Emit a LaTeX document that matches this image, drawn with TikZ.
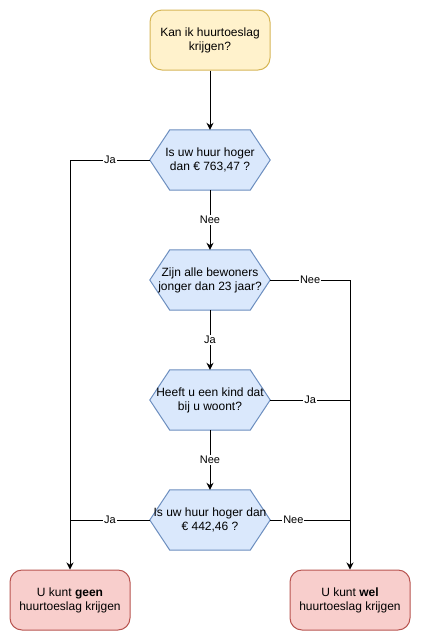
\documentclass[tikz,border=0pt]{standalone}
\usepackage{fontspec}
\setmainfont{Liberation Sans}
\usetikzlibrary{arrows.meta}
\usetikzlibrary{backgrounds}

\definecolor{startfill}{HTML}{FFF2CC}
\definecolor{startline}{HTML}{D6B656}
\definecolor{askfill}{HTML}{DAE8FC}
\definecolor{askline}{HTML}{6C8EBF}
\definecolor{endfill}{HTML}{F8CECC}
\definecolor{endline}{HTML}{B85450}

\begin{document}
\begin{tikzpicture}[
                x=1pt, y=-1pt,
                box/.style={rectangle, rounded corners=12pt, line width=1pt,
                    minimum width=120pt, minimum height=60pt, align=center,
                    inner sep=0pt, font=\fontsize{12}{14}\selectfont},
                startbox/.style={box, draw=startline, fill=startfill},
                endbox/.style={box, draw=endline, fill=endfill},
                ask/.style={rectangle, minimum width=120pt, minimum height=60pt,
                    align=center, inner sep=0pt, font=\fontsize{12}{14}\selectfont},
                hexa/.style={draw=askline, fill=askfill, line width=1pt},
                flow/.style={line width=1pt, -{Stealth[length=7pt, width=7pt]}},
                joinline/.style={line width=1pt},
                lbl/.style={fill=white, inner sep=1pt, font=\fontsize{11}{12}\selectfont}
            ]

            \useasboundingbox (0,0) rectangle (421,641);

            \node[startbox] (start) at (210,40) {Kan ik huurtoeslag\\krijgen?};
            \node[ask] (q1) at (210,160) {Is uw huur hoger\\dan € 763,47 ?};
            \node[ask] (q2) at (210,280) {Zijn alle bewoners\\jonger dan 23 jaar?};
            \node[ask] (q3) at (210,400) {Heeft u een kind dat\\bij u woont?};
            \node[ask] (q4) at (210,520) {Is uw huur hoger dan\\€ 442,46 ?};
            \node[endbox] (geen) at (70,600) {U kunt \textbf{geen}\\huurtoeslag krijgen};
            \node[endbox] (wel) at (350,600) {U kunt \textbf{wel}\\huurtoeslag krijgen};

            \begin{scope}[on background layer]
                \foreach \q in {q1, q2, q3, q4} {
                        \filldraw[hexa] (\q.west) -- ([xshift=20pt]\q.north west)
                        -- ([xshift=-20pt]\q.north east) -- (\q.east)
                        -- ([xshift=-20pt]\q.south east) -- ([xshift=20pt]\q.south west) -- cycle;
                    }
            \end{scope}

            \coordinate (J3) at (wel.north |- q3.east);
            \coordinate (J4r) at (wel.north |- q4.east);
            \coordinate (J4l) at (geen.north |- q4.west);

            \draw[flow] (start) -- (q1);
            \draw[flow] (q1) -- node[lbl] {Nee} (q2);
            \draw[flow] (q2) -- node[lbl] {Ja} (q3);
            \draw[flow] (q3) -- node[lbl] {Nee} (q4);

            \draw[flow] (q1.west) -| node[lbl, pos=0.25] {Ja} (geen.north);
            \draw[flow] (q2.east) -| node[lbl, pos=0.25] {Nee} (wel.north);
            \draw[joinline] (q3.east) -- node[lbl] {Ja} (J3);
            \draw[joinline] (q4.east) -- node[lbl, pos=0.29] {Nee} (J4r);
            \draw[joinline] (q4.west) -- node[lbl] {Ja} (J4l);
        \end{tikzpicture}
\end{document}
